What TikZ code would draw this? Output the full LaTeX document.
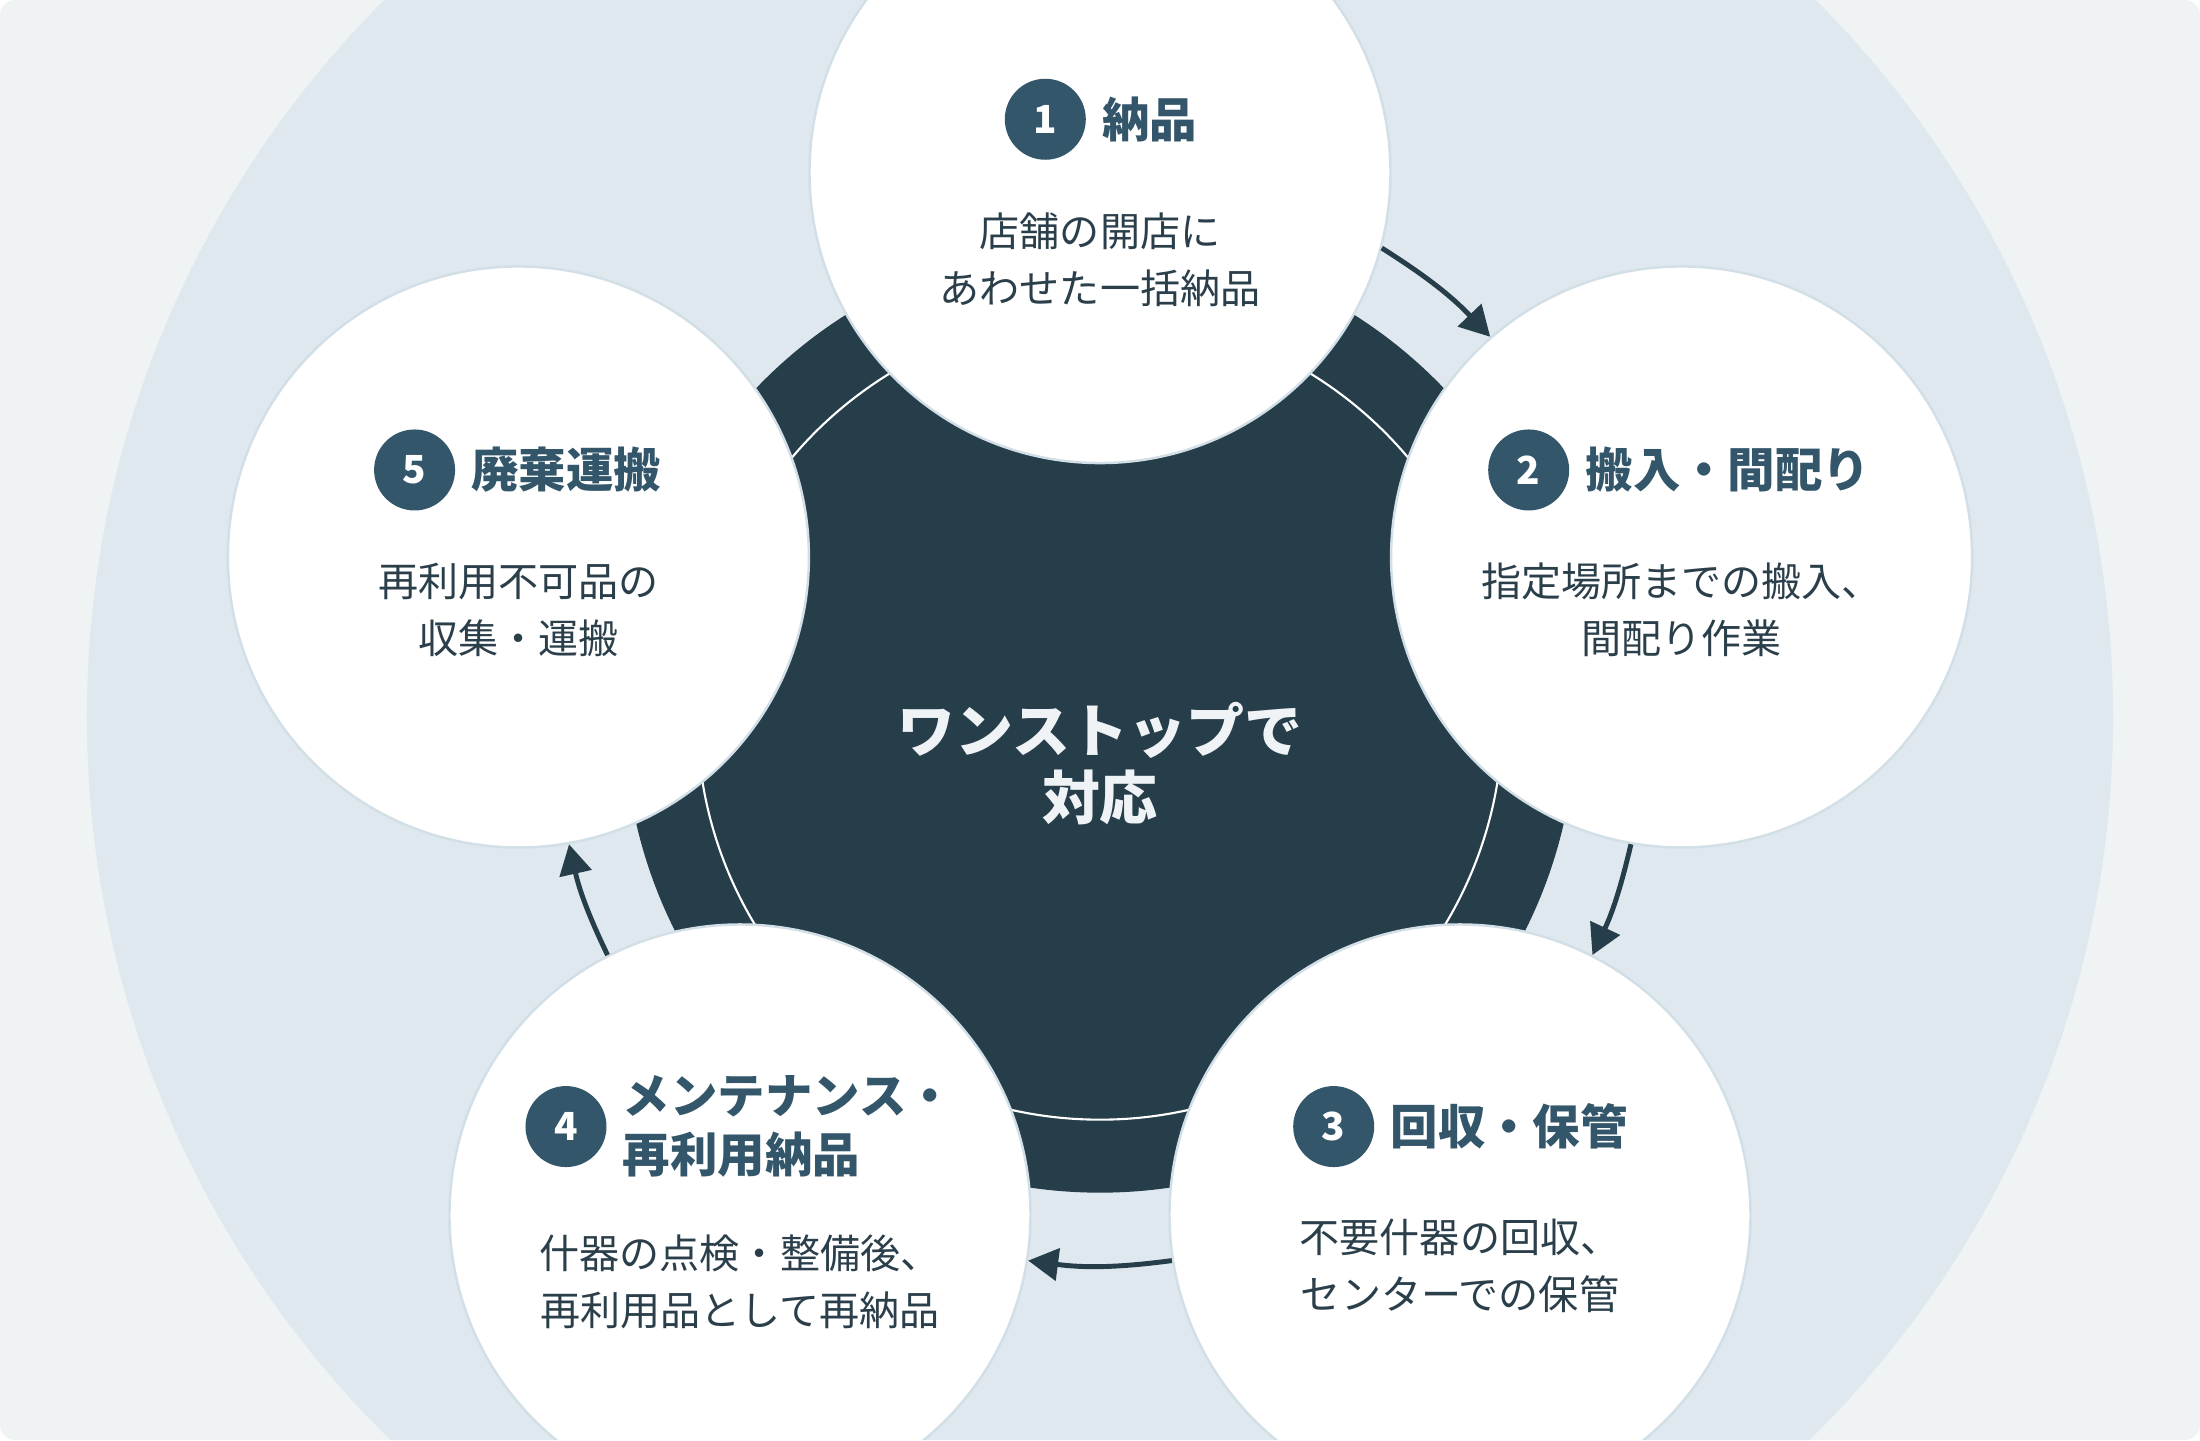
\documentclass[tikz,border=0pt]{standalone}
\usepackage{fontspec}
\setmainfont{Noto Sans CJK JP}
\usetikzlibrary{arrows.meta,positioning}
\definecolor{panelgray}{HTML}{EFF3F4}
\definecolor{ringblue}{HTML}{DEE8EE}
\definecolor{hubdark}{HTML}{263D4A}
\definecolor{badgeblue}{HTML}{33566A}
\definecolor{bodyink}{HTML}{2B3F4B}
\definecolor{stepedge}{HTML}{D2DFE6}
\definecolor{hubtext}{HTML}{F0F3F5}

\begin{document}
\begin{tikzpicture}[
    stepcircle/.style={circle,fill=white,draw=stepedge,line width=0.7pt,minimum size=5.81cm,inner sep=0pt},
    badge/.style={circle,fill=badgeblue,text=white,minimum size=0.81cm,inner sep=0pt,font=\fontsize{11}{11}\selectfont\bfseries},
    steptitle/.style={inner sep=0pt,anchor=west,text=badgeblue,align=left,font=\fontsize{13.5}{16.8}\selectfont\bfseries},
    stepbody/.style={inner sep=0pt,text=bodyink,align=center,font=\fontsize{11.4}{16.2}\selectfont},
    flow/.style={hubdark,line width=1.4pt,-{Triangle[length=3mm,width=3.2mm]}}
  ]
            \useasboundingbox (-11,-7.2304) rectangle (11,7.1696);
            \begin{scope}
            \clip[rounded corners=0.15cm] (-11,-7.2304) rectangle (11,7.1696);
            \fill[panelgray] (-11,-7.2304) rectangle (11,7.1696);
            \fill[ringblue] (0,0) circle (10.13);
            \fill[hubdark] (0,0) circle (4.757);
            \draw[white,line width=0.6pt] (0,0) circle (4.027);
            % the five steps
            \node[stepcircle] (s1) at (0,5.444) {};
            \node[stepcircle] (s2) at (5.816,1.6) {};
            \node[stepcircle] (s3) at (3.6,-4.98) {};
            \node[stepcircle] (s4) at (-3.6,-4.98) {};
            \node[stepcircle] (s5) at (-5.816,1.6) {};
            % arrows between them
            \draw[flow] (s1.-15) to[bend left=7] (s2.131);
            \draw[flow] (s2.-100) to[bend left=6] (s3.63);
            \draw[flow] (s3.-171) to[bend left=7.5] (s4.-9);
            \draw[flow] (s4.117) to[bend left=6.5] (s5.-80);
            % texts
            \node[badge] (b1) at (-0.547,5.977) {1};
            \node[steptitle,right=0.15cm of b1] (t1) {納品};
            \node[stepbody] (d1) at (0,4.574) {店舗の開店に\\あわせた一括納品};
            \node[badge] (b2) at (4.287,2.47) {2};
            \node[steptitle,right=0.15cm of b2] (t2) {搬入・間配り};
            \node[stepbody] (d2) at (5.816,1.074) {指定場所までの搬入、\\間配り作業};
            \node[badge] (b3) at (2.337,-4.096) {3};
            \node[steptitle,right=0.15cm of b3] (t3) {回収・保管};
            \node[stepbody] (d3) at (3.6,-5.485) {不要什器の回収、\\センターでの保管};
            \node[badge] (b4) at (-5.34,-4.096) {4};
            \node[steptitle,right=0.15cm of b4] (t4) {メンテナンス・\\再利用納品};
            \node[stepbody] (d4) at (-3.6,-5.646) {什器の点検・整備後、\\再利用品として再納品};
            \node[badge] (b5) at (-6.854,2.47) {5};
            \node[steptitle,right=0.15cm of b5] (t5) {廃棄運搬};
            \node[stepbody] (d5) at (-5.816,1.074) {再利用不可品の\\収集・運搬};
            \node[text=hubtext,align=center,inner sep=0pt,font=\fontsize{16.5}{19.1}\selectfont\bfseries] (hub) at (0,-0.463) {ワンストップで\\対応};
            \end{scope}
        \end{tikzpicture}
\end{document}
